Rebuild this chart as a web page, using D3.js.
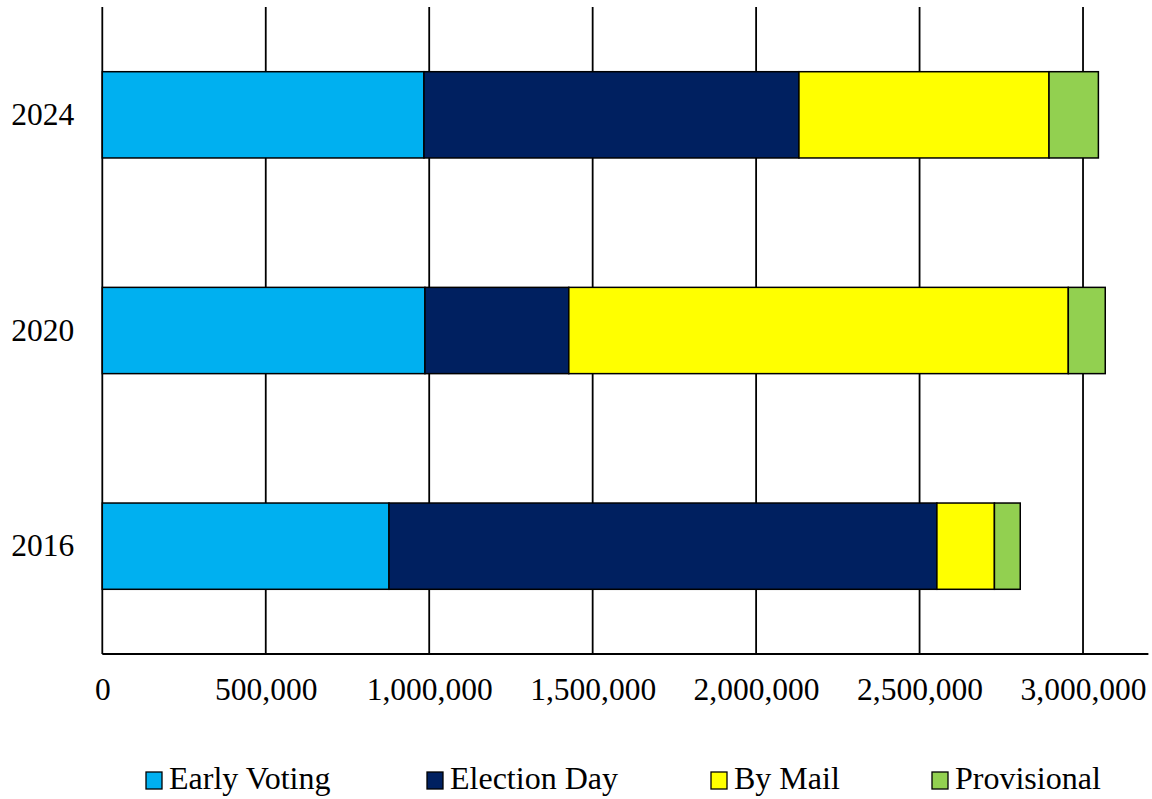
<!DOCTYPE html>
<html>
<head>
<meta charset="utf-8">
<script src="https://cdn.jsdelivr.net/npm/d3@7"></script>
<style>
  html, body { margin: 0; padding: 0; background: #fff; }
  svg { display: block; }
  text { font-family: "Liberation Serif", "Times New Roman", serif; fill: #000; }
</style>
</head>
<body>
<svg id="chart" width="1152" height="799"></svg>
<script>
// Ballots cast by voting method, per election year
const years = ["2024", "2020", "2016"];
const earlyVoting = [984000, 987000, 877000];
const electionDay = [1147000, 440000, 1676000];
const byMail = [765000, 1528000, 176000];
const provisional = [151000, 113000, 79000];

const seriesNames = ["Early Voting", "Election Day", "By Mail", "Provisional"];
const seriesColors = ["#00B0F0", "#002060", "#FFFF00", "#92D050"];
const xTicks = [0, 500000, 1000000, 1500000, 2000000, 2500000, 3000000];

const rows = years.map((y, i) => ({
  year: y,
  "Early Voting": earlyVoting[i],
  "Election Day": electionDay[i],
  "By Mail": byMail[i],
  "Provisional": provisional[i]
}));

const svg = d3.select("#chart");
const plotLeft = 102.3, plotTop = 7, plotBottom = 654, plotRight = 1148.4;

const x = d3.scaleLinear().domain([0, 3200000]).range([plotLeft, plotRight]);
const y = d3.scaleBand().domain(years).range([plotTop, plotBottom])
  .paddingInner(0.6).paddingOuter(0.3);
const color = d3.scaleOrdinal().domain(seriesNames).range(seriesColors);

// vertical gridlines
svg.append("g")
  .selectAll("line")
  .data(xTicks)
  .join("line")
  .attr("x1", d => x(d)).attr("x2", d => x(d))
  .attr("y1", plotTop).attr("y2", plotBottom)
  .attr("stroke", "#000").attr("stroke-width", 1.8);

// horizontal axis line
svg.append("line")
  .attr("x1", plotLeft).attr("x2", plotRight)
  .attr("y1", plotBottom).attr("y2", plotBottom)
  .attr("stroke", "#000").attr("stroke-width", 1.8);

// x tick labels
const fmt = d3.format(",");
const xAxis = d3.axisBottom(x).tickValues(xTicks).tickFormat(d => fmt(d)).tickSize(0).tickPadding(0);
const gx = svg.append("g").attr("transform", `translate(0,${plotBottom})`).call(xAxis);
gx.select(".domain").remove();
gx.selectAll("text")
  .attr("y", 46)
  .attr("dy", 0)
  .style("font-family", '"Liberation Serif", "Times New Roman", serif')
  .style("font-size", "31.5px")
  .attr("fill", "#000");

// year labels
const yAxis = d3.axisLeft(y).tickSize(0).tickPadding(28);
const gy = svg.append("g").attr("transform", `translate(${plotLeft},0)`).call(yAxis);
gy.select(".domain").remove();
gy.selectAll("text")
  .style("font-family", '"Liberation Serif", "Times New Roman", serif')
  .style("font-size", "31.5px")
  .attr("fill", "#000");

// stacked bars
const stacked = d3.stack().keys(seriesNames)(rows);
svg.append("g")
  .selectAll("g")
  .data(stacked)
  .join("g")
  .attr("fill", d => color(d.key))
  .selectAll("rect")
  .data(d => d)
  .join("rect")
  .attr("x", d => x(d[0]))
  .attr("width", d => x(d[1]) - x(d[0]))
  .attr("y", d => y(d.data.year))
  .attr("height", y.bandwidth())
  .attr("stroke", "#000")
  .attr("stroke-width", 1.5);

// legend
const legendX = [146, 427, 711, 932];
const legend = svg.append("g")
  .selectAll("g")
  .data(seriesNames)
  .join("g")
  .attr("transform", (d, i) => `translate(${legendX[i]},772)`);
legend.append("rect")
  .attr("width", 16).attr("height", 17)
  .attr("fill", d => color(d))
  .attr("stroke", "#000").attr("stroke-width", 1.3);
legend.append("text")
  .attr("x", 23).attr("y", 17)
  .style("font-size", "32px")
  .text(d => d);
</script>
</body>
</html>
